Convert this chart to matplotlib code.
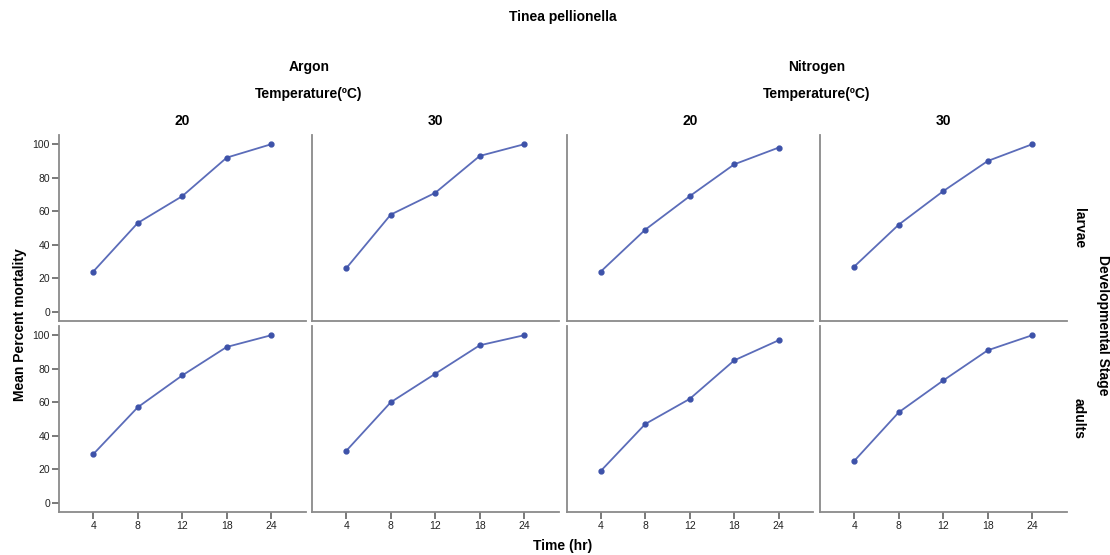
import matplotlib
matplotlib.use("Agg")
import matplotlib.pyplot as plt

plt.rcParams['font.family'] = ['Liberation Sans', 'DejaVu Sans']

time_labels = ['4', '8', '12', '18', '24']
gases = ['Argon', 'Nitrogen']
temps = ['20', '30']
stages = ['larvae', 'adults']

# values [stage][gas][temp]
larvae_argon_20 = [24, 53, 69, 92, 100]
larvae_argon_30 = [26, 58, 71, 93, 100]
larvae_nitrogen_20 = [24, 49, 69, 88, 98]
larvae_nitrogen_30 = [27, 52, 72, 90, 100]
adults_argon_20 = [29, 57, 76, 93, 100]
adults_argon_30 = [31, 60, 77, 94, 100]
adults_nitrogen_20 = [19, 47, 62, 85, 97]
adults_nitrogen_30 = [25, 54, 73, 91, 100]

data = [
    [larvae_argon_20, larvae_argon_30, larvae_nitrogen_20, larvae_nitrogen_30],
    [adults_argon_20, adults_argon_30, adults_nitrogen_20, adults_nitrogen_30],
]

W, H = 1110, 555
fig = plt.figure(figsize=(W / 100, H / 100), dpi=100)

col_x = [59, 312, 566.5, 820]
col_w = 246.5
row_top = [135, 326]
row_h = 186

line_col = '#5b6cb9'
mark_col = '#3d52a9'
spine_col = '#8a8a8a'

for r in range(2):
    for c in range(4):
        x0 = col_x[c] / W
        y0 = 1 - (row_top[r] + row_h) / H
        ax = fig.add_axes([x0, y0, col_w / W, row_h / H])
        xs = list(range(len(time_labels)))
        ax.plot(xs, data[r][c], color=line_col, lw=1.3, marker='o',
                markersize=3.5, markerfacecolor=mark_col, markeredgecolor=mark_col)
        ax.set_xlim(-0.77, 4.77)
        ax.set_ylim(-5.5, 105.5)
        for s in ['top', 'right']:
            ax.spines[s].set_visible(False)
        for s in ['left', 'bottom']:
            ax.spines[s].set_color(spine_col)
            ax.spines[s].set_linewidth(1.3)
        ax.tick_params(colors='#555555', labelcolor='#222222', labelsize=7.5,
                       width=1.1, length=5, pad=1.5)
        if c == 0:
            ax.set_yticks([0, 20, 40, 60, 80, 100])
        else:
            ax.set_yticks([])
        if r == 1:
            ax.set_xticks(xs)
            ax.set_xticklabels(time_labels)
        else:
            ax.set_xticks([])
        if r == 0:
            ax.set_title(temps[c % 2], fontsize=10, fontweight='bold', pad=7)
        if c == 3:
            ax.text(1.022, 0.5, stages[r], transform=ax.transAxes, rotation=-90,
                    ha='left', va='center', fontsize=10, fontweight='bold')

def fx(px):
    return px / W

def fy(py):
    return 1 - py / H

fig.text(fx(563), fy(17), 'Tinea pellionella', ha='center', va='center',
         fontsize=10, fontweight='bold')
for g, cx in zip(gases, [309, 817]):
    fig.text(fx(cx), fy(67), g, ha='center', va='center', fontsize=10, fontweight='bold')
    fig.text(fx(cx), fy(94), 'Temperature(ºC)', ha='center', va='center',
             fontsize=10, fontweight='bold')
fig.text(fx(563), fy(546), 'Time (hr)', ha='center', va='center',
         fontsize=10, fontweight='bold')
fig.text(fx(20), fy(325), 'Mean Percent mortality', ha='center', va='center',
         rotation=90, fontsize=10, fontweight='bold')
fig.text(fx(1103), fy(325), 'Developmental Stage', ha='center', va='center',
         rotation=-90, fontsize=10, fontweight='bold')

fig.savefig('out.png', dpi=100, facecolor='white')
